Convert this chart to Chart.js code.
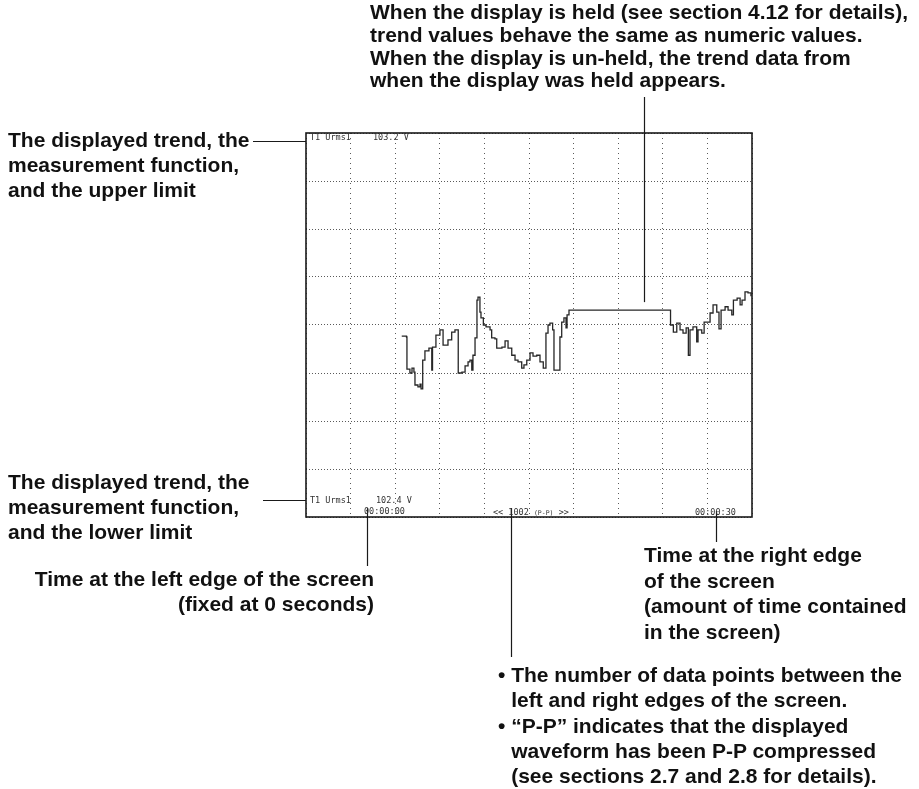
<!DOCTYPE html>
<html>
<head>
<meta charset="utf-8">
<title>Trend display</title>
<script src="https://cdn.jsdelivr.net/npm/chart.js@4/dist/chart.umd.min.js"></script>
<style>
  body { margin: 0; background: #fff; }
  #stage { position: relative; width: 919px; height: 789px; overflow: hidden; }
  #trend { position: absolute; left: 0; top: 0; }
  .note {
    position: absolute;
    font-family: "Liberation Sans", Arial, sans-serif;
    font-weight: bold;
    font-size: 21px;
    line-height: 25px;
    color: #111;
    white-space: nowrap;
  }
  .note.right { text-align: right; }
  .note .indent { padding-left: 13.2px; }
  .screen {
    position: absolute;
    font-family: "DejaVu Sans Mono", monospace;
    font-size: 8.5px;
    line-height: 10px;
    color: #333;
    white-space: nowrap;
  }
  .screen small { font-size: 6.5px; }
</style>
</head>
<body>
<div id="stage">
  <canvas id="trend" width="919" height="789"></canvas>

  <div class="note" style="left:370px; top:1px; line-height:22.8px;">
    When the display is held (see section 4.12 for details),<br>
    trend values behave the same as numeric values.<br>
    When the display is un-held, the trend data from<br>
    when the display was held appears.
  </div>
  <div class="note" style="left:8px; top:127px;">
    The displayed trend, the<br>
    measurement function,<br>
    and the upper limit
  </div>
  <div class="note" style="left:8px; top:469px;">
    The displayed trend, the<br>
    measurement function,<br>
    and the lower limit
  </div>
  <div class="note right" style="right:545px; top:566px; line-height:25.3px;">
    Time at the left edge of the screen<br>
    (fixed at 0 seconds)
  </div>
  <div class="note" style="left:644px; top:542px; line-height:25.6px;">
    Time at the right edge<br>
    of the screen<br>
    (amount of time contained<br>
    in the screen)
  </div>
  <div class="note" style="left:498px; top:662px; line-height:25.25px;">
    • The number of data points between the<br>
    <span class="indent">left and right edges of the screen.</span><br>
    • “P-P” indicates that the displayed<br>
    <span class="indent">waveform has been P-P compressed</span><br>
    <span class="indent">(see sections 2.7 and 2.8 for details).</span>
  </div>

  <div class="screen" id="top-name" style="left:310px; top:132px;"></div>
  <div class="screen" id="top-value" style="left:373px; top:132px;"></div>
  <div class="screen" id="bottom-name" style="left:310px; top:495px;"></div>
  <div class="screen" id="bottom-value" style="left:376px; top:495px;"></div>
  <div class="screen" id="start-time" style="left:364px; top:506px;"></div>
  <div class="screen" id="point-count" style="left:493px; top:507px;"></div>
  <div class="screen" id="end-time" style="left:695px; top:507px;"></div>
</div>

<script>
// Trace and screen limits
const traceName = "T1 Urms1";
const upperLimit = 103.2;   // V, top of screen
const lowerLimit = 102.4;   // V, bottom of screen
const spanSeconds = 30;     // time across the screen
const pointCount = 1002;    // data points between the edges
const xDivisions = 10;
const yDivisions = 8;

// Trend samples (seconds, volts); the flat stretch is the held period
const trendTime = [
  6.44, 6.76, 6.79, 6.99, 7.13, 7.26, 7.33, 7.53, 7.67, 7.74,
  7.85, 8.00, 8.27, 8.46, 8.51, 8.74, 9.01, 9.22, 9.55, 9.80,
  10.02, 10.19, 10.24, 10.49, 10.70, 10.90, 11.03, 11.15, 11.23, 11.37,
  11.50, 11.57, 11.70, 11.77, 11.93, 12.11, 12.38, 12.49, 12.71, 12.83,
  13.18, 13.39, 13.59, 13.84, 14.06, 14.26, 14.51, 14.66, 14.85, 15.07,
  15.27, 15.52, 15.74, 15.96, 16.14, 16.28, 16.41, 16.59, 16.68, 16.97,
  17.08, 17.20, 17.35, 17.49, 17.56, 17.69, 24.48, 24.52, 24.71, 24.94,
  25.16, 25.36, 25.57, 25.72, 25.83, 26.03, 26.28, 26.37, 26.62, 26.78,
  27.04, 27.18, 27.38, 27.63, 27.78, 27.92, 28.19, 28.39, 28.64, 28.75,
  29.00, 29.20, 29.33, 29.53, 29.73, 29.93
];
const trendVolts = [
  102.777, 102.775, 102.708, 102.700, 102.710, 102.702, 102.675, 102.671, 102.677, 102.667,
  102.727, 102.746, 102.752, 102.706, 102.754, 102.779, 102.790, 102.758, 102.769, 102.785,
  102.790, 102.790, 102.700, 102.702, 102.715, 102.723, 102.727, 102.706, 102.737, 102.773,
  102.852, 102.858, 102.827, 102.815, 102.800, 102.796, 102.790, 102.773, 102.771, 102.752,
  102.754, 102.767, 102.752, 102.737, 102.727, 102.723, 102.710, 102.717, 102.727, 102.742,
  102.735, 102.737, 102.723, 102.710, 102.783, 102.800, 102.804, 102.790, 102.706, 102.706,
  102.775, 102.806, 102.815, 102.794, 102.821, 102.831, 102.831, 102.800, 102.785, 102.804,
  102.790, 102.783, 102.794, 102.737, 102.790, 102.796, 102.765, 102.790, 102.783, 102.806,
  102.806, 102.825, 102.842, 102.827, 102.792, 102.831, 102.838, 102.831, 102.821, 102.852,
  102.856, 102.842, 102.852, 102.869, 102.867, 102.860
];
const heldMarkTime = 22.74; // where the held-period callout points

function formatClock(seconds) {
  const pad = (n) => String(n).padStart(2, "0");
  return `${pad(Math.floor(seconds / 3600))}:${pad(Math.floor(seconds / 60) % 60)}:${pad(seconds % 60)}`;
}

function fillScreenLabels() {
  document.getElementById("top-name").textContent = traceName;
  document.getElementById("top-value").textContent = `${upperLimit.toFixed(1)} V`;
  document.getElementById("bottom-name").textContent = traceName;
  document.getElementById("bottom-value").textContent = `${lowerLimit.toFixed(1)} V`;
  document.getElementById("start-time").textContent = formatClock(0);
  document.getElementById("point-count").innerHTML = `&lt;&lt; ${pointCount} <small>(P-P)</small> &gt;&gt;`;
  document.getElementById("end-time").textContent = formatClock(spanSeconds);
}

// Frame around the screen plus the callout leader lines
const screenFrame = {
  id: "screenFrame",
  afterDraw(chart) {
    const { ctx, chartArea: area, scales } = chart;
    const line = (x1, y1, x2, y2, width) => {
      ctx.beginPath();
      ctx.lineWidth = width;
      ctx.moveTo(x1, y1);
      ctx.lineTo(x2, y2);
      ctx.stroke();
    };
    ctx.save();
    ctx.strokeStyle = "#1a1a1a";
    ctx.lineWidth = 1.6;
    ctx.strokeRect(area.left, area.top, area.right - area.left, area.bottom - area.top);

    const heldX = Math.round(scales.x.getPixelForValue(heldMarkTime)) + 0.5;
    const heldY = scales.y.getPixelForValue(trendVolts[trendTime.indexOf(17.69)]);
    line(heldX, 97, heldX, heldY - 8, 1.2);

    line(253, area.top + 8.5, area.left, area.top + 8.5, 1.2);
    line(263, area.bottom - 16.5, area.left, area.bottom - 16.5, 1.2);

    line(367.5, area.bottom - 9, 367.5, 566, 1.2);
    line(511.5, area.bottom - 9, 511.5, 657, 1.2);
    line(716.5, area.bottom - 6, 716.5, 542, 1.2);
    ctx.restore();
  },
};

function drawTrend() {
  const canvas = document.getElementById("trend");
  const points = trendTime.map((t, i) => ({ x: t, y: trendVolts[i] }));

  return new Chart(canvas, {
    type: "line",
    data: {
      datasets: [
        {
          label: traceName,
          data: points,
          borderColor: "#262626",
          borderWidth: 1.3,
          pointRadius: 0,
          stepped: true,
          fill: false,
        },
      ],
    },
    options: {
      responsive: false,
      animation: false,
      layout: {
        padding: { left: 306, top: 133, right: 167, bottom: 272 },
      },
      plugins: {
        legend: { display: false },
        tooltip: { enabled: false },
      },
      scales: {
        x: {
          type: "linear",
          min: 0,
          max: spanSeconds,
          ticks: { display: false, stepSize: spanSeconds / xDivisions },
          grid: { color: "#5a5a5a", lineWidth: 1, drawTicks: false },
          border: { display: false, dash: [1, 4] },
        },
        y: {
          type: "linear",
          min: lowerLimit,
          max: upperLimit,
          ticks: { display: false, stepSize: (upperLimit - lowerLimit) / yDivisions },
          grid: { color: "#5a5a5a", lineWidth: 1, drawTicks: false },
          border: { display: false, dash: [1, 2] },
        },
      },
    },
    plugins: [screenFrame],
  });
}

fillScreenLabels();
drawTrend();
</script>
</body>
</html>
